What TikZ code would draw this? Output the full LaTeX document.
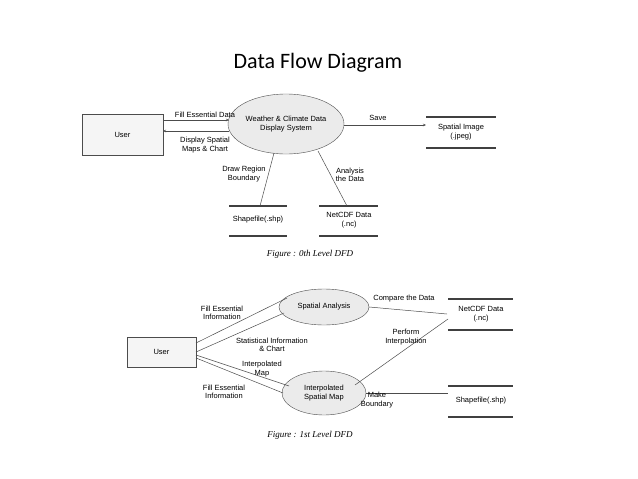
\documentclass[tikz,border=0pt]{standalone}
\usepackage{fontspec}
\setmainfont{Liberation Sans}
\newfontfamily\capfont{Liberation Serif}
\newfontfamily\titfont{Carlito}
\usetikzlibrary{shapes.geometric,arrows.meta}
\begin{document}
\begin{tikzpicture}[x=1pt,y=-1pt,
  lbl/.style={font=\fontsize{7.5}{8.5}\selectfont,align=center,inner sep=1pt},
  proc/.style={ellipse,draw=black!70,fill=black!8,font=\fontsize{7.5}{8.5}\selectfont,align=center,inner sep=0pt},
  ent/.style={rectangle,draw=black!70,fill=black!4,font=\fontsize{7.5}{8.5}\selectfont},
  figcap/.style={font=\capfont\itshape\fontsize{9}{10}\selectfont},
  st/.style={draw=black!75,line width=1.2pt},
  fl/.style={draw=black!70,line width=0.5pt},
  ar/.style={fl,-{Stealth[length=3pt,width=2.5pt]}}]
\useasboundingbox (0,0) rectangle (638,479);
\node[font=\titfont\fontsize{22}{24}\selectfont] (title) at (318,63) {Data Flow Diagram};
% level 0
\node[ent,minimum width=81pt,minimum height=41pt] (user) at (122.5,134.5) {User};
\node[proc,minimum width=116pt,minimum height=60pt] (sys) at (286,124) {Weather \& Climate Data\\Display System};
\coordinate (u1) at (163,120); \coordinate (s1) at (229,120);
\draw[ar] (u1) -- (s1);
\coordinate (u2) at (163,131); \coordinate (s2) at (229,131);
\draw[ar] (s2) -- (u2);
\node[lbl] (l1) at (205,115) {Fill Essential Data};
\node[lbl] (l2) at (205,145) {Display Spatial\\Maps \& Chart};
\coordinate (s3) at (344,125); \coordinate (img) at (426,125);
\draw[ar] (s3) -- (img);
\node[lbl] (l3) at (378,118) {Save};
\draw[st] (426,117) -- (496,117); \draw[st] (426,148) -- (496,148);
\node[lbl] (simg) at (461,132) {Spatial Image\\(.jpeg)};
\draw[st] (229,206) -- (287,206); \draw[st] (229,236) -- (287,236);
\node[lbl] (shp) at (258,220) {Shapefile(.shp)};
\draw[st] (319,206) -- (378,206); \draw[st] (319,236) -- (378,236);
\node[lbl] (nc) at (349,220) {NetCDF Data\\(.nc)};
\coordinate (s4) at (274,153); \coordinate (shpT) at (260,206);
\draw[fl] (s4) -- (shpT);
\coordinate (s5) at (318,151); \coordinate (ncT) at (347,206);
\draw[fl] (s5) -- (ncT);
\node[lbl] (l4) at (244,174) {Draw Region\\Boundary};
\node[lbl] (l5) at (350,175) {Analysis\\the Data};
\node[figcap] (c0) at (310,254) {Figure : 0th Level DFD};
% level 1
\node[ent,minimum width=69pt,minimum height=30pt] (user1) at (161.5,352) {User};
\node[proc,minimum width=90pt,minimum height=36pt] (sa) at (324,307) {Spatial Analysis};
\node[proc,minimum width=84pt,minimum height=44pt] (ism) at (324,393) {Interpolated\\Spatial Map};
\draw[st] (448,299) -- (513,299); \draw[st] (448,330) -- (513,330);
\node[lbl] (nc1) at (481,314) {NetCDF Data\\(.nc)};
\draw[st] (448,386) -- (513,386); \draw[st] (448,417) -- (513,417);
\node[lbl] (shp1) at (481,401) {Shapefile(.shp)};
\draw[fl] (196,343) -- (287,298);
\draw[fl] (196,352) -- (284,313);
\draw[fl] (196,355) -- (289,386);
\draw[fl] (196,358) -- (283,393);
\draw[fl] (sa.east) -- (447,314);
\draw[fl] (355,385) -- (448,319);
\draw[fl] (ism.east) -- (448,393);
\node[lbl] (m1) at (222,313) {Fill Essential\\Information};
\node[lbl] (m2) at (272,345) {Statistical Information\\\& Chart};
\node[lbl] (m3) at (262,369) {Interpolated\\Map};
\node[lbl] (m4) at (224,392) {Fill Essential\\Information};
\node[lbl] (m5) at (404,299) {Compare the Data};
\node[lbl] (m6) at (406,337) {Perform\\Interpolation};
\node[lbl] (m7) at (377,400) {Make\\Boundary};
\node[figcap] (c1) at (310,435) {Figure : 1st Level DFD};
\end{tikzpicture}
\end{document}
